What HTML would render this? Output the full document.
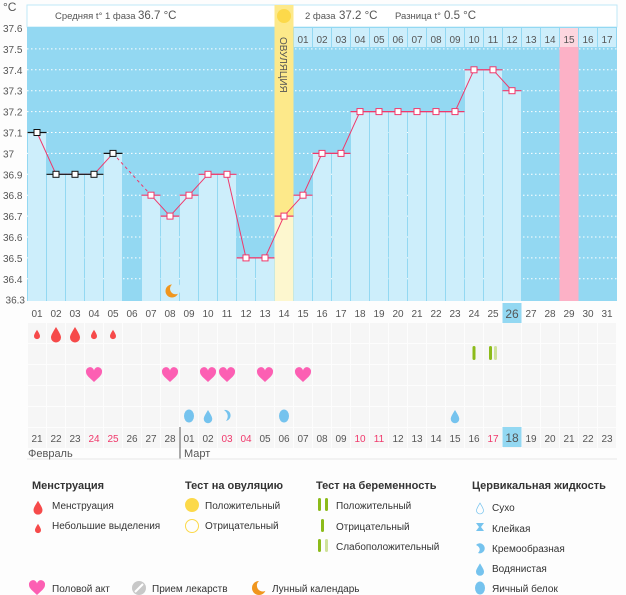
<!DOCTYPE html>
<html><head><meta charset="utf-8"><style>
body{margin:0;background:#fdfdfd;width:626px;height:595px;overflow:hidden}
svg{display:block;font-family:"Liberation Sans",sans-serif}
</style></head><body>
<svg width="626" height="595" viewBox="0 0 626 595" xmlns="http://www.w3.org/2000/svg">
<defs>
<path id="drop" d="M0,-7 C3,-2 5,1 5,3.5 A5,5 0 0 1 -5,3.5 C-5,1 -3,-2 0,-7Z"/>
<path id="heart" d="M0,7 C-4,3 -8,0.5 -8,-3 A4,4 0 0 1 0,-4.5 A4,4 0 0 1 8,-3 C8,0.5 4,3 0,7Z"/>
</defs>
<rect x="27" y="5" width="590" height="22" fill="#fff" stroke="#bfe8f7"/>
<text x="3" y="11" font-size="12" fill="#555">°C</text>
<text x="55" y="19" font-size="9.5" fill="#555">Средняя t° 1 фаза</text>
<text x="138" y="19" font-size="11.5" fill="#555">36.7 °C</text>
<text x="305" y="19" font-size="9.5" fill="#555">2 фаза</text>
<text x="339" y="19" font-size="11.5" fill="#555">37.2 °C</text>
<text x="395" y="19" font-size="9.5" fill="#555">Разница t°</text>
<text x="444" y="19" font-size="11.5" fill="#555">0.5 °C</text>
<rect x="27" y="27" width="590" height="274" fill="#93d8f2"/>
</svg>
<script>
const S="http://www.w3.org/2000/svg",svg=document.querySelector('svg');
function el(t,a,txt){const e=document.createElementNS(S,t);for(const k in a)e.setAttribute(k,a[k]);if(txt!==undefined)e.textContent=txt;svg.appendChild(e);return e;}
const X=i=>27.5+(i-1)*19, C=i=>X(i)+9.5, Y=t=>28+(37.6-t)*209;
const T={1:37.1,2:36.9,3:36.9,4:36.9,5:37.0,7:36.8,8:36.7,9:36.8,10:36.9,11:36.9,12:36.5,13:36.5,14:36.7,15:36.8,16:37.0,17:37.0,18:37.2,19:37.2,20:37.2,21:37.2,22:37.2,23:37.2,24:37.4,25:37.4,26:37.3};
for(let i=15;i<=31;i++){el('rect',{x:X(i)+0.5,y:28,width:18,height:19,fill:i==29?'#fcd6df':'#cdeefb'});}
for(let k=1;k<13;k++){const y=Y(37.6-k*0.1);el('line',{x1:27,x2:617,y1:y,y2:y,stroke:'#fff','stroke-dasharray':'1.5 2.5','stroke-width':1});}
el('rect',{x:X(29),y:47,width:19,height:254,fill:'#fcb1c6'});
el('rect',{x:X(14),y:5,width:19,height:296,fill:'#fde98a'});
el('rect',{x:X(14),y:Y(36.7),width:19,height:301-Y(36.7),fill:'#fdf7cf'});
for(const d in T){const i=+d;if(i==14)continue;const y=Y(T[d]);el('rect',{x:X(i)+0.5,y:y,width:18,height:301-y,fill:'#cdeefb'});}
for(let i=15;i<=31;i++){el('text',{x:C(i),y:43,'font-size':10,fill:'#555','text-anchor':'middle'},String(i-14).padStart(2,'0'));}
el('text',{x:280,y:37,'font-size':10,fill:'#555',transform:'rotate(90 280 37)'},'ОВУЛЯЦИЯ');
el('circle',{cx:284,cy:16,r:7,fill:'#fcd94a'});
for(let k=0;k<=13;k++){const t=(37.6-k*0.1);let s=t.toFixed(1);if(s=='37.0')s='37';el('text',{x:k==13?25:3,y:Y(t)+4,'font-size':10,fill:'#555','text-anchor':k==13?'end':'start'},s);}
const days=Object.keys(T).map(Number).sort((a,b)=>a-b);
for(let j=0;j<days.length-1;j++){const a=days[j],b=days[j+1];el('line',{x1:C(a),y1:Y(T[a]),x2:C(b),y2:Y(T[b]),stroke:'#f0386b','stroke-width':1,'stroke-dasharray':a==5?'3 3':''});}
for(const d of days){const i=d,y=Y(T[d]);const col=i<=5?'#111':'#f0386b';el('line',{x1:X(i),x2:X(i)+19,y1:y,y2:y,stroke:col,'stroke-width':1.2});el('rect',{x:C(i)-3,y:y-3,width:6,height:6,fill:'#fff',stroke:col,'stroke-width':1});}
function moon(cx,cy,r,bg){el('circle',{cx,cy,r,fill:'#f0961e'});el('circle',{cx:cx+r*0.55,cy:cy-r*0.35,r:r*0.85,fill:bg});}
moon(172,291,6.5,'#cdeefb');
for(let r=0;r<6;r++)for(let i=1;i<=31;i++)el('rect',{x:X(i)+0.5,y:323+r*21,width:18,height:20,fill:'#f6f6f6'});
for(let i=1;i<=31;i++)el('text',{x:C(i),y:317,'font-size':10,fill:'#555','text-anchor':'middle'},String(i).padStart(2,'0'));
el('rect',{x:X(26),y:303,width:19,height:20,fill:'#93d8f2'});
el('text',{x:C(26),y:318,'font-size':12,fill:'#555','text-anchor':'middle'},'26');
[[1,0.6],[2,1],[3,1],[4,0.6],[5,0.6]].forEach(([i,s])=>el('use',{href:'#drop',fill:'#f64a4a',transform:`translate(${C(i)},${334}) scale(${s})`}));
el('rect',{x:C(24)-1.5,y:346,width:3,height:14,rx:1.5,fill:'#8cbb1a'});
el('rect',{x:C(25)-4,y:346,width:3,height:14,rx:1.5,fill:'#8cbb1a'});
el('rect',{x:C(25)+1,y:346,width:3,height:14,rx:1.5,fill:'#cfe29a'});
[4,8,10,11,13,15].forEach(i=>el('use',{href:'#heart',fill:'#fc5fb3',transform:`translate(${C(i)},375)`}));
el('ellipse',{cx:C(9),cy:416,rx:5,ry:6.5,fill:'#75c3ee'});
el('use',{href:'#drop',fill:'#75c3ee',transform:`translate(${C(10)},416) scale(0.85)`});
el('path',{d:`M${C(11)-3},${410} A5,5 0 1 1 ${C(11)-1},${421} C${C(11)+2},417 ${C(11)+1},413 ${C(11)-3},410Z`,fill:'#75c3ee'});
el('ellipse',{cx:C(14),cy:416,rx:5,ry:6.5,fill:'#75c3ee'});
el('use',{href:'#drop',fill:'#75c3ee',transform:`translate(${C(23)},416) scale(0.85)`});
const dates=['21','22','23','24','25','26','27','28','01','02','03','04','05','06','07','08','09','10','11','12','13','14','15','16','17','18','19','20','21','22','23'];
const red=new Set([4,5,11,12,18,19,25]);
el('rect',{x:X(26),y:427,width:19,height:20,fill:'#93d8f2'});
dates.forEach((d,k)=>el('text',{x:C(k+1),y:442,'font-size':k==25?12:10,fill:red.has(k+1)?'#f0386b':'#555','text-anchor':'middle'},d));
el('line',{x1:180,x2:180,y1:427,y2:459,stroke:'#555'});
el('line',{x1:27,x2:617,y1:459,y2:459,stroke:'#e6e6e6'});
el('text',{x:28,y:457,'font-size':11,fill:'#555'},'Февраль');
el('text',{x:184,y:457,'font-size':11,fill:'#555'},'Март');
const L=(x,y,t,b)=>el('text',{x,y,'font-size':b?11:10,'font-weight':b?'bold':'normal',fill:'#333'},t);
L(32,489,'Менструация',1);L(185,489,'Тест на овуляцию',1);L(316,489,'Тест на беременность',1);L(472,489,'Цервикальная жидкость',1);
el('use',{href:'#drop',fill:'#f64a4a',transform:'translate(38,507) scale(0.9)'});L(52,509,'Менструация');
el('use',{href:'#drop',fill:'#f64a4a',transform:'translate(38,528) scale(0.6)'});L(52,529,'Небольшие выделения');
el('circle',{cx:192,cy:505,r:7,fill:'#fcd94a'});L(205,509,'Положительный');
el('circle',{cx:192,cy:526,r:6.5,fill:'none',stroke:'#fcd94a'});L(205,529,'Отрицательный');
el('rect',{x:318,y:498,width:3,height:13,rx:1.5,fill:'#8cbb1a'});el('rect',{x:325,y:498,width:3,height:13,rx:1.5,fill:'#8cbb1a'});L(336,509,'Положительный');
el('rect',{x:321,y:519,width:3,height:13,rx:1.5,fill:'#8cbb1a'});L(336,530,'Отрицательный');
el('rect',{x:318,y:539,width:3,height:13,rx:1.5,fill:'#8cbb1a'});el('rect',{x:325,y:539,width:3,height:13,rx:1.5,fill:'#cfe29a'});L(336,550,'Слабоположительный');
el('use',{href:'#drop',fill:'none',stroke:'#75c3ee',transform:'translate(480,508) scale(0.7)'});L(492,511,'Сухо');
el('path',{d:'M476,523 h8 l-3,4 l3,4 h-8 l3,-4z',fill:'#75c3ee'});L(492,532,'Клейкая');
el('path',{d:'M476,545 A5,5 0 1 1 478,553 C481,550 480,547 476,545Z',fill:'#75c3ee'});L(492,552,'Кремообразная');
el('use',{href:'#drop',fill:'#75c3ee',transform:'translate(480,569) scale(0.8)'});L(492,572,'Водянистая');
el('ellipse',{cx:480,cy:588,rx:5,ry:6.5,fill:'#75c3ee'});L(492,592,'Яичный белок');
el('use',{href:'#heart',fill:'#fc5fb3',transform:'translate(37,588)'});L(52,592,'Половой акт');
el('circle',{cx:139,cy:588,r:7,fill:'#c8c8c8'});el('line',{x1:135,y1:592,x2:143,y2:584,stroke:'#fff','stroke-width':2});L(152,592,'Прием лекарств');
moon(259,588,7,'#fdfdfd');L(272,592,'Лунный календарь');
</script>
</body></html>
